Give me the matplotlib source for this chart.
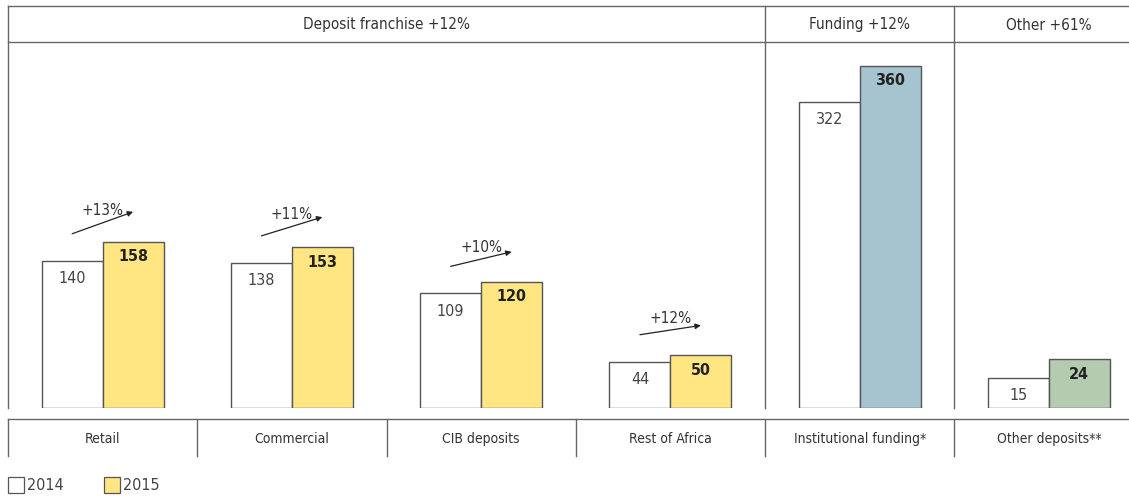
import matplotlib
matplotlib.use("Agg")
import matplotlib.pyplot as plt
from matplotlib.patches import Rectangle

plt.rcParams["font.family"] = ["DejaVu Sans"]
plt.rcParams["font.stretch"] = "condensed"

# Deposit franchise segments (R bn)
deposit_cats = ["Retail", "Commercial", "CIB deposits", "Rest of Africa"]
deposit_2014 = [140, 138, 109, 44]
deposit_2015 = [158, 153, 120, 50]
deposit_growth = ["+13%", "+11%", "+10%", "+12%"]

funding_cats = ["Institutional funding*"]
funding_2014 = [322]
funding_2015 = [360]

other_cats = ["Other deposits**"]
other_2014 = [15]
other_2015 = [24]

headers = ["Deposit franchise +12%", "Funding +12%", "Other +61%"]
legend_years = ["2014", "2015"]

YELLOW = "#ffe682"
BLUE = "#a6c3d0"
GREEN = "#b4cbb0"
EDGE = "#555555"
LINE = "#666666"
TXT = "#333333"

W, H = 1129, 500
fig = plt.figure(figsize=(W / 100, H / 100), dpi=100)

# background axes in pixel units for the table frame
bg = fig.add_axes([0, 0, 1, 1])
bg.set_xlim(0, W)
bg.set_ylim(H, 0)
bg.axis("off")

left, top, head, base, band = 8, 6, 42, 408, 419
col_w = 189.25
panel_edges = [left, left + 4 * col_w, left + 5 * col_w]

bg.plot([left, W], [top, top], color=LINE, lw=1)
bg.plot([left, W], [head, head], color=LINE, lw=1)
bg.plot([left, W], [band, band], color=LINE, lw=1)
for x in panel_edges:
    bg.plot([x, x], [top, base], color=LINE, lw=1)
for i in range(6):
    x = left + i * col_w
    bg.plot([x, x], [band, band + 37], color=LINE, lw=1)

head_x = [(panel_edges[0] + panel_edges[1]) / 2,
          (panel_edges[1] + panel_edges[2]) / 2,
          panel_edges[2] + col_w / 2]
for x, t in zip(head_x, headers):
    bg.text(x, (top + head) / 2 + 1, t, ha="center", va="center", fontsize=11, color=TXT)


def panel(x0, ncols, first, cats, v14, v15, color, ymax, width_px=None, growth=None):
    w = width_px if width_px is not None else ncols * col_w
    ax = fig.add_axes([x0 / W, (H - base) / H, w / W, (base - head) / H])
    ax.patch.set_alpha(0)
    for s in ax.spines.values():
        s.set_visible(False)
    xs = [first + i for i in range(len(cats))]
    ax.set_xlim(first - 0.5, first - 0.5 + w / col_w)
    ax.set_ylim(0, ymax)
    bw = 0.322
    ax.bar([x - bw / 2 for x in xs], v14, bw, color="white", edgecolor=EDGE, lw=1)
    ax.bar([x + bw / 2 for x in xs], v15, bw, color=color, edgecolor=EDGE, lw=1)
    ax.set_xticks(xs)
    ax.set_xticklabels(cats, fontsize=10, color=TXT)
    ax.tick_params(axis="x", length=0, pad=17)
    ax.set_yticks([])
    px = ymax / (base - head)  # data units per pixel
    for x, a, b in zip(xs, v14, v15):
        ax.text(x - bw / 2, a - 18 * px, str(a), ha="center", va="center",
                fontsize=11.5, color="#444444")
        ax.text(x + bw / 2, b - 15 * px, str(b), ha="center", va="center",
                fontsize=11.5, fontweight="bold", color="#222222")
    if growth:
        for x, a, b, g in zip(xs, v14, v15, growth):
            y0 = a + 27 * px
            y1 = b + 30 * px
            ax.annotate("", xy=(x + bw / 2, y1), xytext=(x - bw / 2, y0),
                        arrowprops=dict(arrowstyle="-|>", color="#222222", lw=0.9,
                                        mutation_scale=8, shrinkA=0, shrinkB=0))
            ax.text(x, (y0 + y1) / 2 + 12 * px, g, ha="center", va="center",
                    fontsize=11, color=TXT)
    return ax


panel(panel_edges[0], 4, 0, deposit_cats, deposit_2014, deposit_2015, YELLOW, 348,
      growth=deposit_growth)
panel(panel_edges[1], 1, 4, funding_cats, funding_2014, funding_2015, BLUE, 385)
panel(panel_edges[2], 1, 5, other_cats, other_2014, other_2015, GREEN, 180,
      width_px=W - panel_edges[2])

# legend
for (lx, fc), lbl in zip([(8, "white"), (104, YELLOW)], legend_years):
    bg.add_patch(Rectangle((lx, 477), 16, 16, facecolor=fc, edgecolor=EDGE, lw=0.9))
    bg.text(lx + 19, 486, lbl, ha="left", va="center", fontsize=11.5, color="#444444")

fig.savefig("out.png", dpi=100)
